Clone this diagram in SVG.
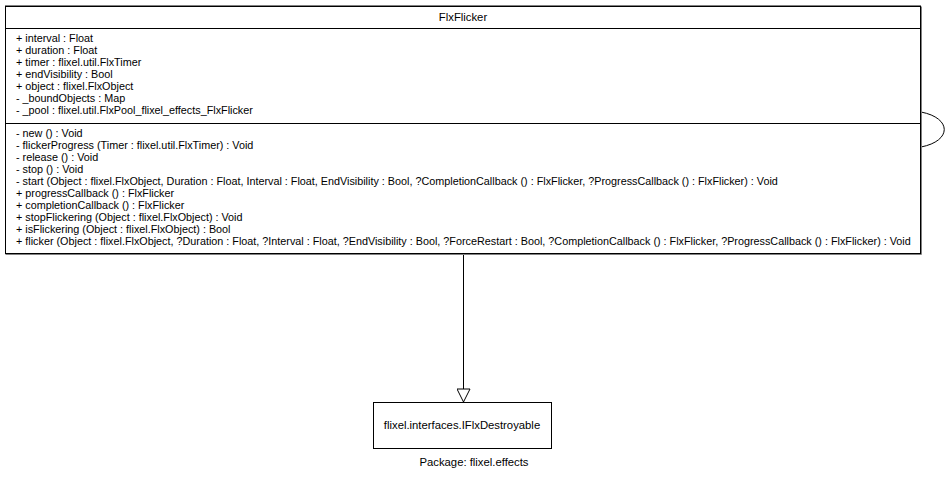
<svg xmlns="http://www.w3.org/2000/svg" width="951" height="479" viewBox="0 0 951 479">
  <style>
    text { font-family: "Liberation Sans", Arial, sans-serif; font-size: 10.8px; fill: #000; }
    .mid { text-anchor: middle; }
    .big { font-size: 11.3px; }
    .box { fill: #fff; stroke: #000; stroke-width: 1; }
    .shadow { fill: none; stroke: #808080; stroke-width: 1; }
    .sep { stroke: #000; stroke-width: 1; }
    .edge { fill: none; stroke: #000; stroke-width: 1; }
  </style>
  <defs>
    <marker id="realize" markerWidth="16" markerHeight="14" refX="14" refY="7" orient="auto" markerUnits="userSpaceOnUse">
      <path d="M1,0.5 L14,7 L1,13.5 Z" fill="#fff" stroke="#000" stroke-width="1"/>
    </marker>
  </defs>
  <rect width="951" height="479" fill="#fff"/>

  <g id="connectors">
    <path class="edge" d="M463.5,254 L463.5,402" marker-end="url(#realize)"/>
    <path class="edge" d="M921,112 C952,118 952,141 921,147"/>
  </g>

  <g id="FlxFlicker">
    <path class="shadow" d="M921.5,6.5 L921.5,254.5 L5.5,254.5"/>
    <line x1="5" y1="5.5" x2="921" y2="5.5" stroke="#808080"/>
    <rect class="box" x="5.5" y="6.5" width="915" height="247"/>
    <line class="sep" x1="5.5" y1="28.5" x2="920.5" y2="28.5"/>
    <line class="sep" x1="5.5" y1="123.5" x2="920.5" y2="123.5"/>
    <text class="mid big" x="463" y="21">FlxFlicker</text>
    <text x="16" y="42">+ interval : Float</text>
    <text x="16" y="54">+ duration : Float</text>
    <text x="16" y="66">+ timer : flixel.util.FlxTimer</text>
    <text x="16" y="78">+ endVisibility : Bool</text>
    <text x="16" y="90">+ object : flixel.FlxObject</text>
    <text x="16" y="102">- _boundObjects : Map</text>
    <text x="16" y="114">- _pool : flixel.util.FlxPool_flixel_effects_FlxFlicker</text>
    <text x="16" y="137">- new () : Void</text>
    <text x="16" y="149">- flickerProgress (Timer : flixel.util.FlxTimer) : Void</text>
    <text x="16" y="161">- release () : Void</text>
    <text x="16" y="173">- stop () : Void</text>
    <text x="16" y="185">- start (Object : flixel.FlxObject, Duration : Float, Interval : Float, EndVisibility : Bool, ?CompletionCallback () : FlxFlicker, ?ProgressCallback () : FlxFlicker) : Void</text>
    <text x="16" y="197">+ progressCallback () : FlxFlicker</text>
    <text x="16" y="209">+ completionCallback () : FlxFlicker</text>
    <text x="16" y="221">+ stopFlickering (Object : flixel.FlxObject) : Void</text>
    <text x="16" y="233">+ isFlickering (Object : flixel.FlxObject) : Bool</text>
    <text x="16" y="245">+ flicker (Object : flixel.FlxObject, ?Duration : Float, ?Interval : Float, ?EndVisibility : Bool, ?ForceRestart : Bool, ?CompletionCallback () : FlxFlicker, ?ProgressCallback () : FlxFlicker) : Void</text>
  </g>

  <g id="IFlxDestroyable">
    <rect class="box" x="373.5" y="402.5" width="178" height="46"/>
    <text class="mid big" x="462" y="429">flixel.interfaces.IFlxDestroyable</text>
  </g>

  <text class="mid big" x="474" y="466">Package: flixel.effects</text>
</svg>
